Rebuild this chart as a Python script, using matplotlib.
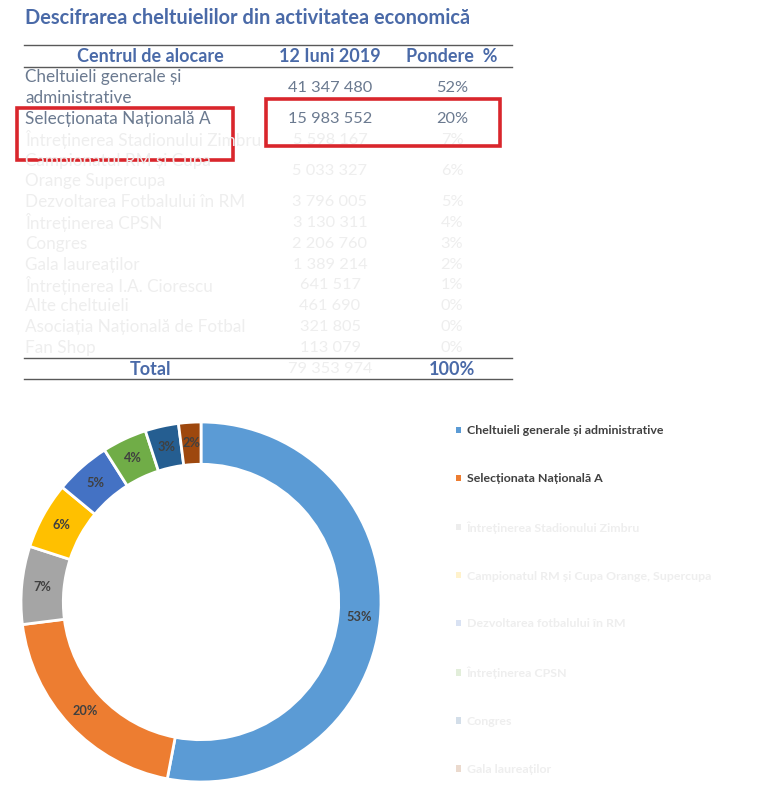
import matplotlib.pyplot as plt
from matplotlib.patches import Rectangle

plt.rcParams['font.family'] = ['Lato', 'DejaVu Sans']

title = "Descifrarea cheltuielilor din activitatea economică"
headers = ["Centrul de alocare", "12 Iuni 2019", "Pondere  %"]

# table rows: (label lines, amount, share, visible?)
row_labels = [
    ["Cheltuieli generale și", "administrative"],
    ["Selecționata Națională A"],
    ["Întreținerea Stadionului Zimbru"],
    ["Campionatul RM și Cupa", "Orange Supercupa"],
    ["Dezvoltarea Fotbalului în RM"],
    ["Întreținerea CPSN"],
    ["Congres"],
    ["Gala laureaților"],
    ["Întreținerea I.A. Ciorescu"],
    ["Alte cheltuieli"],
    ["Asociația Națională de Fotbal"],
    ["Fan Shop"],
]
row_amounts = ["41 347 480", "15 983 552", "5 598 167", "5 033 327", "3 796 005",
               "3 130 311", "2 206 760", "1 389 214", "641 517", "461 690",
               "321 805", "113 079"]
row_shares = ["52%", "20%", "7%", "6%", "5%", "4%", "3%", "2%", "1%", "0%", "0%", "0%"]
row_visible = [True, True] + [False] * 10
total_amount = "79 353 974"
total_share = "100%"

# donut
shares = [53, 20, 7, 6, 5, 4, 3, 2]
legend_labels = [
    "Cheltuieli generale și administrative",
    "Selecționata Națională A",
    "Întreținerea Stadionului Zimbru",
    "Campionatul RM și Cupa Orange, Supercupa",
    "Dezvoltarea fotbalului în RM",
    "Întreținerea CPSN",
    "Congres",
    "Gala laureaților",
]
legend_visible = [True, True] + [False] * 6
colors = ["#5B9BD5", "#ED7D31", "#A5A5A5", "#FFC000", "#4472C4", "#70AD47", "#255E91", "#9E480E"]

blue = "#4a6aa8"
body = "#6b7a90"
faded = "#eeeeee"

fig = plt.figure(figsize=(7.61, 8), dpi=100)
tab = fig.add_axes([0, 0, 1, 1])
tab.set_xlim(0, 761)
tab.set_ylim(800, 0)
tab.axis('off')

tab.text(25, 18, title, color=blue, fontsize=14.4, fontweight='bold', va='center')

col_x = [150, 330, 452]
for x, h in zip(col_x, headers):
    tab.text(x, 56, h, color=blue, fontsize=13, fontweight='bold', ha='center', va='center')
for y in [45, 67]:
    tab.plot([24, 512], [y, y], color="#595959", lw=1)

line_h = 20.8
y0 = 67
for lines, amt, sh, vis in zip(row_labels, row_amounts, row_shares, row_visible):
    h = line_h * len(lines)
    yc = y0 + h / 2
    c = body if vis else faded
    for i, t in enumerate(lines):
        ty = y0 + line_h * (i + 0.5)
        tab.text(25, ty, t, color=c, fontsize=12.3, va='center')
    tab.text(col_x[1], yc, amt, color=c, fontsize=11.8, ha='center', va='center')
    tab.text(col_x[2], yc, sh, color=c, fontsize=11.8, ha='center', va='center')
    y0 += h

tab.plot([24, 512], [y0, y0], color="#595959", lw=1)
tab.text(col_x[0], y0 + 11, "Total", color=blue, fontsize=13, fontweight='bold', ha='center', va='center')
tab.text(col_x[1], y0 + 11, total_amount, color=faded, fontsize=11.8, ha='center', va='center')
tab.text(col_x[2], y0 + 11, total_share, color=blue, fontsize=13, fontweight='bold', ha='center', va='center')
tab.plot([24, 512], [y0 + 21, y0 + 21], color="#595959", lw=1)

tab.add_patch(Rectangle((17, 108), 216, 52, fill=False, edgecolor="#d9262c", lw=2.6))
tab.add_patch(Rectangle((266, 99), 234, 47, fill=False, edgecolor="#d9262c", lw=2.6))

ax = fig.add_axes([21 / 761, 18 / 800, 360 / 761, 360 / 800])
wedges, texts, autotexts = ax.pie(
    shares, colors=colors, startangle=90, counterclock=False,
    autopct='%1.0f%%', pctdistance=0.883,
    wedgeprops=dict(width=0.235, edgecolor='white', linewidth=2),
    textprops=dict(color="#404040", fontsize=9.2, fontweight='bold'))
ax.set_xlim(-1, 1)
ax.set_ylim(-1, 1)

leg = fig.legend(wedges, legend_labels, loc='upper left',
                 bbox_to_anchor=(445 / 761, 1 - 414 / 800), frameon=False,
                 handlelength=0.4, handleheight=0.4, handletextpad=0.45,
                 labelspacing=2.99, prop=dict(size=8.9, weight='bold'))
for txt, hnd, vis in zip(leg.get_texts(), leg.legend_handles, legend_visible):
    hnd.set_linewidth(0)
    if vis:
        txt.set_color("#404040")
    else:
        txt.set_color(faded)
        hnd.set_alpha(0.2)

fig.savefig("out.png", dpi=100)
